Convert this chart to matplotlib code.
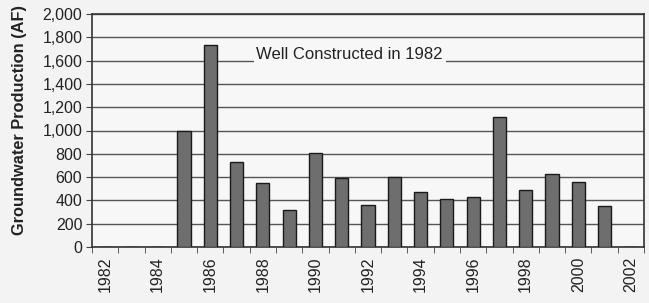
import numpy as np
import matplotlib
matplotlib.use('Agg')
import matplotlib.pyplot as plt

plt.rcParams['font.family'] = ['Liberation Sans', 'DejaVu Sans']

years = list(range(1982, 2003))
production = [0, 0, 0, 1000, 1730, 730, 550, 320, 810, 590, 360,
              600, 470, 410, 430, 1120, 490, 630, 560, 350, 0]
year_labels = [str(y) if y % 2 == 0 else '' for y in years]
y_ticks = list(range(0, 2001, 200))

f = plt.figure(figsize=(6.49, 3.03), dpi=100, facecolor='#f3f3f3')
ax = f.add_axes([92 / 649, 56 / 303, 552 / 649, 233 / 303])
ax.set_facecolor('#f7f7f7')

x = np.arange(len(years))
ax.bar(x, production, width=0.5, color='#6e6e6e', edgecolor='#1a1a1a',
       linewidth=1.0, zorder=3)

ax.set_xlim(-0.5, len(years) - 0.5)
ax.set_ylim(0, 2000)
ax.set_yticks(y_ticks)
ax.set_yticklabels([f'{v:,}' for v in y_ticks], fontsize=11.5, color='#222222')
ax.yaxis.grid(True, color='#555555', linewidth=1.0, zorder=0)

ax.set_xticks(x)
ax.set_xticklabels(year_labels, rotation=90, fontsize=11.5, color='#222222')
ax.tick_params(axis='x', length=0, pad=7)
ax.set_xticks(np.arange(-0.5, len(years), 1), minor=True)
ax.tick_params(axis='x', which='minor', length=4, direction='out', color='#444444')
ax.tick_params(axis='y', length=4, color='#444444', pad=3)

for s in ax.spines.values():
    s.set_color('#333333')
    s.set_linewidth(1.2)

ax.set_ylabel('Groundwater Production (AF)', fontsize=11.8, fontweight='bold',
              color='#222222')
ax.yaxis.set_label_coords(-0.118, 0.545)

ax.text(9.3, 1650, 'Well Constructed in 1982', fontsize=12, color='#222222',
        ha='center', va='center', zorder=4,
        bbox=dict(facecolor='#f7f7f7', edgecolor='none', pad=2))

f.savefig('out.png', dpi=100, facecolor=f.get_facecolor())
